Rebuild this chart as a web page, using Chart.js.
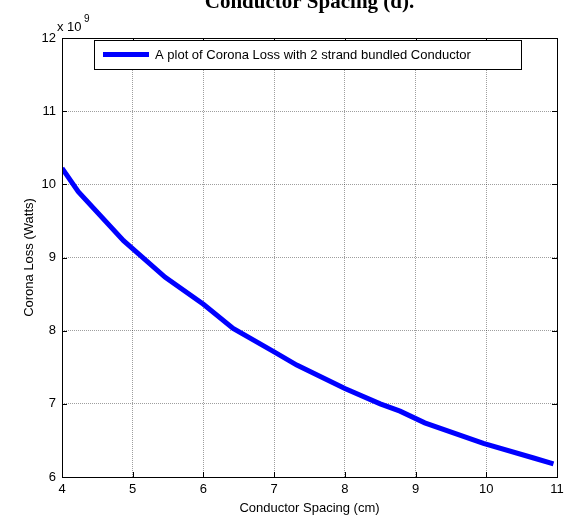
<!DOCTYPE html>
<html>
<head>
<meta charset="utf-8">
<script src="https://cdn.jsdelivr.net/npm/chart.js@4.4.1/dist/chart.umd.min.js"></script>
<style>
  html, body { margin: 0; padding: 0; background: #fff; }
  #wrap { width: 572px; height: 523px; position: relative; }
</style>
</head>
<body>
<div id="wrap"><canvas id="myChart" width="572" height="523"></canvas></div>
<script>
// conductor spacing in cm
const spacingCm = [4.0, 4.23, 4.87, 5.46, 6.0, 6.42, 7.0, 7.32, 8.0, 8.5, 8.78, 9.13, 9.96, 10.67, 10.95];
// corona loss, in units of 10^9 watts
const lossE9 = [10.22, 9.90, 9.23, 8.73, 8.36, 8.03, 7.71, 7.53, 7.21, 7.00, 6.90, 6.74, 6.46, 6.26, 6.18];
const xTicks = [4, 5, 6, 7, 8, 9, 10, 11];
const yTicks = [6, 7, 8, 9, 10, 11, 12];
const seriesLabel = 'A plot of Corona Loss with 2 strand bundled Conductor';

const points = spacingCm.map((x, i) => ({ x: x, y: lossE9[i] }));

// box around the axes, inward tick marks, title, exponent and legend (MATLAB look)
const matlabBits = {
    id: 'matlabBits',
    afterDatasetsDraw(chart) {
        const ctx = chart.ctx;
        const a = chart.chartArea;
        const xs = chart.scales.x, ys = chart.scales.y;
        ctx.save();
        ctx.strokeStyle = '#000';
        ctx.lineWidth = 1;
        ctx.strokeRect(Math.round(a.left) + 0.5, Math.round(a.top) + 0.5,
            Math.round(a.right - a.left), Math.round(a.bottom - a.top));
        ctx.beginPath();
        xTicks.forEach(v => {
            const px = Math.round(xs.getPixelForValue(v)) + 0.5;
            ctx.moveTo(px, a.bottom); ctx.lineTo(px, a.bottom - 5);
            ctx.moveTo(px, a.top); ctx.lineTo(px, a.top + 5);
        });
        yTicks.forEach(v => {
            const py = Math.round(ys.getPixelForValue(v)) + 0.5;
            ctx.moveTo(a.left, py); ctx.lineTo(a.left + 5, py);
            ctx.moveTo(a.right, py); ctx.lineTo(a.right - 5, py);
        });
        ctx.stroke();

        // title (top cut off in the original)
        ctx.fillStyle = '#000';
        ctx.font = 'bold 21px "Liberation Serif", "Times New Roman", serif';
        ctx.textAlign = 'center';
        ctx.textBaseline = 'alphabetic';
        ctx.fillText('Conductor Spacing (d).', (a.left + a.right) / 2, 8);

        // exponent label
        ctx.font = '13px "Liberation Sans", Arial, sans-serif';
        ctx.textAlign = 'left';
        ctx.fillText('x 10', 57, 31);
        ctx.font = '10px "Liberation Sans", Arial, sans-serif';
        ctx.fillText('9', 84, 22);

        // legend box
        const lx = 94, ly = 40, lw = 427, lh = 29;
        ctx.fillStyle = '#fff';
        ctx.fillRect(lx, ly, lw, lh);
        ctx.strokeRect(lx + 0.5, ly + 0.5, lw, lh);
        ctx.strokeStyle = '#0000ff';
        ctx.lineWidth = 5;
        ctx.beginPath();
        ctx.moveTo(103, 54.5); ctx.lineTo(149, 54.5);
        ctx.stroke();
        ctx.fillStyle = '#000';
        ctx.font = '13px "Liberation Sans", Arial, sans-serif';
        ctx.textBaseline = 'middle';
        ctx.fillText(seriesLabel, 155, 55);
        ctx.restore();
    }
};

const gridStyle = {
    color: 'rgba(0,0,0,0.38)',
    lineWidth: 1,
    drawTicks: false
};

const myChart = new Chart(document.getElementById('myChart').getContext('2d'), {
    type: 'line',
    data: {
        datasets: [{
            label: seriesLabel,
            data: points,
            borderColor: '#0000ff',
            borderWidth: 5,
            pointRadius: 0,
            fill: false,
            tension: 0
        }]
    },
    options: {
        responsive: false,
        animation: false,
        layout: { padding: { top: 38, right: 15, left: 0, bottom: 0 } },
        plugins: {
            legend: { display: false },
            tooltip: { enabled: false }
        },
        scales: {
            x: {
                type: 'linear',
                min: 4, max: 11,
                afterBuildTicks: s => { s.ticks = xTicks.map(v => ({ value: v })); },
                afterFit: s => { s.height = 46; },
                grid: gridStyle,
                border: { display: false, dash: [1, 1] },
                ticks: {
                    color: '#000',
                    padding: 5,
                    maxRotation: 0,
                    font: { family: '"Liberation Sans", Arial, sans-serif', size: 13 }
                },
                title: {
                    display: true,
                    text: 'Conductor Spacing (cm)',
                    color: '#000',
                    padding: { top: 0, bottom: 7 },
                    font: { family: '"Liberation Sans", Arial, sans-serif', size: 13 }
                }
            },
            y: {
                min: 6, max: 12,
                afterBuildTicks: s => { s.ticks = yTicks.map(v => ({ value: v })); },
                afterFit: s => { s.width = 62; },
                grid: gridStyle,
                border: { display: false, dash: [1, 1] },
                ticks: {
                    color: '#000',
                    padding: 6,
                    font: { family: '"Liberation Sans", Arial, sans-serif', size: 13 }
                },
                title: {
                    display: true,
                    text: 'Corona Loss (Watts)',
                    color: '#000',
                    padding: { top: 22, bottom: 0 },
                    font: { family: '"Liberation Sans", Arial, sans-serif', size: 13 }
                }
            }
        }
    },
    plugins: [matlabBits]
});
</script>
</body>
</html>
